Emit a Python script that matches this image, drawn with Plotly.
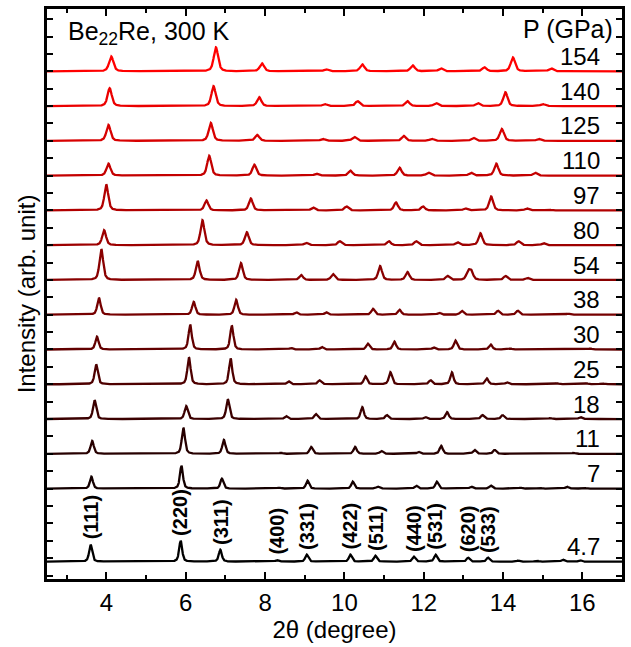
import numpy as np
import plotly.graph_objects as go

# Pressures of the stacked patterns (GPa), bottom to top
pressures = ["4.7", "7", "11", "18", "25", "30", "38", "54", "80", "97", "110", "125", "140", "154"]

# Peak positions (2θ, degree) and intensities (arb. unit) of each pattern
pos_4p7 = [3.60, 5.87, 6.87, 8.30, 9.05, 10.15, 10.78, 11.75, 12.30, 13.12, 13.62, 14.38, 14.85, 15.51, 15.94]
int_4p7 = [17, 21, 12, 1.5, 7, 7, 6, 5, 7, 4, 4, 1, 1, 2, 1.5]
pos_7 = [3.62, 5.89, 6.91, 8.35, 9.07, 10.21, 10.84, 11.81, 12.33, 13.20, 13.69, 14.44, 14.92, 15.61, 16.03]
int_7 = [12, 23, 10, 1, 8, 7, 2, 3, 7, 2, 3, 1, 1, 2, 1]
pos_11 = [3.64, 5.94, 6.96, 8.40, 9.16, 10.27, 10.93, 11.87, 12.44, 13.28, 13.79, 15.78]
int_11 = [13, 26, 14, 1, 7, 7, 3, 2, 8, 4, 4, 1]
pos_18 = [3.70, 6.01, 7.06, 8.53, 9.28, 10.45, 11.07, 12.04, 12.59, 13.48, 13.99, 15.19, 15.95]
int_18 = [19, 13, 20, 3, 5, 12, 4, 2, 7, 4, 4, 1, 2]
pos_25 = [3.74, 6.08, 7.13, 8.59, 9.37, 10.53, 11.16, 12.17, 12.71, 13.59, 14.10, 15.36, 16.10, 16.50]
int_25 = [20, 27, 26, 3, 4, 8, 12, 4, 12, 6, 2, 1, 1, 1]
pos_30 = [3.76, 6.11, 7.16, 8.65, 9.43, 10.59, 11.26, 12.25, 12.80, 13.69, 14.18, 16.20]
int_30 = [13, 25, 24, 1.5, 2.5, 6, 8, 2, 9, 5, 1, 1]
pos_38 = [3.81, 6.20, 7.27, 8.78, 9.54, 10.72, 11.39, 12.39, 12.96, 13.87, 14.37, 15.64]
int_38 = [17, 13, 15, 2.5, 2.5, 6, 5, 2, 4, 4, 4, 1]
pos_54 = [3.87, 6.30, 7.39, 8.91, 9.71, 10.90, 11.59, 12.60, 13.12, 13.20, 14.06, 14.62]
int_54 = [31, 19, 17, 5, 6, 14, 8, 4, 8, 8, 4, 2]
pos_80 = [3.94, 6.42, 7.54, 9.03, 9.88, 11.12, 11.81, 12.85, 13.43, 14.39, 15.02]
int_80 = [15, 25, 13, 2.5, 4, 4, 4, 3, 12, 4, 2]
pos_97 = [3.995, 6.52, 7.64, 9.21, 10.05, 11.30, 11.98, 13.05, 13.70, 14.60, 15.15]
int_97 = [26, 10, 12, 3, 4, 8, 4, 2, 14, 2, 1]
pos_110 = [4.05, 6.59, 7.73, 9.29, 10.15, 11.39, 12.12, 13.19, 13.83, 14.81]
int_110 = [12, 20, 11, 2, 5, 8, 3, 3, 12, 3]
pos_125 = [4.05, 6.63, 7.80, 9.45, 10.25, 11.50, 12.20, 13.25, 13.97, 14.90]
int_125 = [16, 18, 6, 2, 4, 5, 2, 3, 12, 2]
pos_140 = [4.08, 6.70, 7.85, 9.50, 10.33, 11.59, 12.31, 13.36, 14.06, 15.00]
int_140 = [18, 20, 9, 2, 5, 5, 3, 3, 14, 2]
pos_154 = [4.12, 6.76, 7.92, 9.54, 10.45, 11.72, 12.43, 13.53, 14.25, 15.21]
int_154 = [15, 24, 8, 2, 7, 6, 3, 4, 14, 3]

# Peak width (FWHM, degree) of each pattern
fwhm = [0.09, 0.09, 0.095, 0.095, 0.095, 0.095, 0.10, 0.11, 0.115, 0.115, 0.12, 0.125, 0.125, 0.13]

# Miller indices of the indexed reflections of the 4.7 GPa pattern
hkl_labels = ["(111)", "(220)", "(311)", "(400)", "(331)", "(422)", "(511)", "(440)", "(531)", "(620)", "(533)"]
hkl_pos = pos_4p7[:11]
hkl_int = int_4p7[:11]

positions = [pos_4p7, pos_7, pos_11, pos_18, pos_25, pos_30, pos_38, pos_54, pos_80, pos_97, pos_110, pos_125, pos_140, pos_154]
intensities = [int_4p7, int_7, int_11, int_18, int_25, int_30, int_38, int_54, int_80, int_97, int_110, int_125, int_140, int_154]

STEP = 35.0          # vertical spacing between stacked patterns
FIRST_GAP = 73.5     # extra room above the lowest pattern for the hkl labels
FONT = "Liberation Sans, Arial, Helvetica, sans-serif"

two_theta = np.arange(2.5, 17.0001, 0.004)


def pattern(peaks, heights, w):
    """Pseudo-Voigt profile sum for a list of reflections."""
    y = np.zeros_like(two_theta)
    eta = 0.5
    for p, h in zip(peaks, heights):
        d = (two_theta - p) / (w / 2.0)
        lor = 1.0 / (1.0 + d ** 2)
        gau = np.exp(-np.log(2.0) * d ** 2)
        y += h * (eta * lor + (1 - eta) * gau)
    return y


def offset(i):
    return 0.0 if i == 0 else FIRST_GAP + STEP * (i - 1)


n = len(pressures)
fig = go.Figure()
for i in range(n):
    r = int(round(255 * i / (n - 1)))
    fig.add_trace(go.Scatter(
        x=two_theta,
        y=pattern(positions[i], intensities[i], fwhm[i]) + offset(i),
        mode="lines",
        line=dict(color=f"rgb({r},0,0)", width=2.3),
        showlegend=False,
        hoverinfo="skip",
    ))

annotations = []
# pressure labels at the right of each pattern
for i, p in enumerate(pressures):
    annotations.append(dict(
        x=16.5, y=offset(i) + 15, xref="x", yref="y", text=p,
        showarrow=False, xanchor="right", yanchor="middle",
        font=dict(family=FONT, size=24, color="black"),
    ))

# reflection labels above the 4.7 GPa pattern
for lab, xp, h in zip(hkl_labels, hkl_pos, hkl_int):
    annotations.append(dict(
        x=xp, y=h, xref="x", yref="y", text="<b>" + lab + "</b>", textangle=-90,
        showarrow=False, xanchor="center", yanchor="bottom", yshift=3,
        font=dict(family=FONT, size=20, color="black"),
    ))

annotations.append(dict(
    x=0.033, y=0.958, xref="paper", yref="paper",
    text="Be<sub>22</sub>Re, 300 K", showarrow=False,
    xanchor="left", yanchor="middle",
    font=dict(family=FONT, size=25, color="black"),
))
annotations.append(dict(
    x=0.988, y=0.965, xref="paper", yref="paper",
    text="P (GPa)", showarrow=False,
    xanchor="right", yanchor="middle",
    font=dict(family=FONT, size=25, color="black"),
))

fig.update_layout(
    width=631, height=647,
    margin=dict(l=47, r=9, t=6, b=68),
    paper_bgcolor="white", plot_bgcolor="white",
    font=dict(family=FONT, size=24, color="black"),
    annotations=annotations,
    xaxis=dict(
        range=[2.5, 17], tick0=4, dtick=2,
        ticks="inside", ticklen=7, tickwidth=2, tickcolor="black",
        minor=dict(dtick=1, ticks="inside", ticklen=4, tickwidth=2, tickcolor="black"),
        showline=True, linewidth=2.5, linecolor="black", mirror="allticks",
        showgrid=False, zeroline=False,
        tickfont=dict(family=FONT, size=24),
        title=dict(text="2θ (degree)", font=dict(family=FONT, size=24), standoff=0),
    ),
    yaxis=dict(
        range=[-17.5, 556.2], tick0=3.5, dtick=17.5,
        ticks="inside", ticklen=6, tickwidth=2, tickcolor="black",
        showticklabels=False,
        showline=True, linewidth=2.5, linecolor="black", mirror="allticks",
        showgrid=False, zeroline=False,
        title=dict(text="Intensity (arb. unit)", font=dict(family=FONT, size=24), standoff=2),
    ),
)

fig.write_html("out.html")
